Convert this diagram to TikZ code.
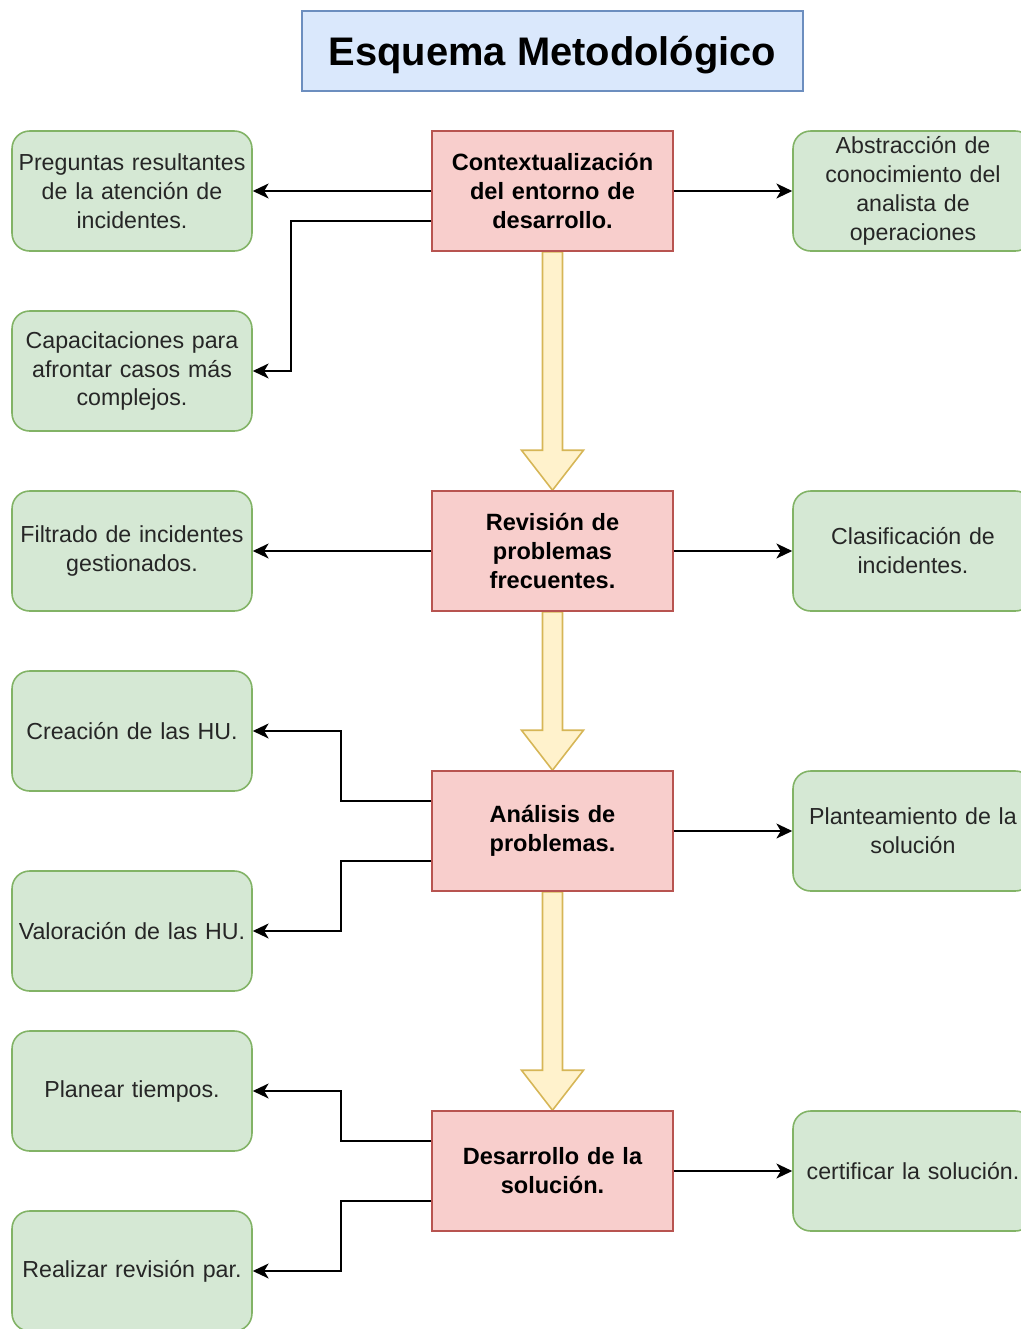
\documentclass[tikz,border=0pt]{standalone}
\usepackage{fontspec}
\setmainfont{Liberation Sans}
\usetikzlibrary{arrows.meta,calc,backgrounds}
\definecolor{tituloFill}{HTML}{DAE8FC}
\definecolor{tituloLine}{HTML}{6C8EBF}
\definecolor{faseFill}{HTML}{F8CECC}
\definecolor{faseLine}{HTML}{B85450}
\definecolor{tareaFill}{HTML}{D5E8D4}
\definecolor{tareaLine}{HTML}{82B366}
\definecolor{bloqueFill}{HTML}{FFF2CC}
\definecolor{bloqueLine}{HTML}{D6B656}
\tikzset{
  titulo/.style={draw=tituloLine, fill=tituloFill, line width=0.9pt, minimum width=10.02cm, minimum height=1.6cm, text depth=0pt, font=\fontsize{22.7}{26}\selectfont\bfseries},
  fase/.style={draw=faseLine, fill=faseFill, line width=0.9pt, inner sep=0pt, minimum width=4.82cm, minimum height=2.4cm, text width=4.76cm, align=center, font=\fontsize{13.4}{16.5}\selectfont\bfseries},
  tarea/.style={draw=tareaLine, fill=tareaFill, line width=0.9pt, inner sep=0pt, rounded corners=10pt, minimum width=4.8cm, minimum height=2.4cm, text width=4.76cm, align=center, text=black!85, font=\fontsize{13.2}{16.5}\selectfont},
  flecha/.style={-{Stealth[length=9pt, width=8.5pt, inset=2.5pt]}, line width=1pt},
  bloque/.style={draw=bloqueLine, fill=bloqueFill, line width=0.9pt}
}
\begin{document}
\begin{tikzpicture}[x=0.02cm, y=-0.02cm]
    \path[use as bounding box] (0,0) rectangle (1021,1329);
    \clip (0,0) rectangle (1021,1329);
    \node[titulo] (titulo) at (552.5,51) {Esquema Metodológico};
    % fases
    \node[fase] (ctx) at (552.5,191) {Contextualización\\ del entorno de\\ desarrollo.};
    \node[fase] (rev) at (552.5,551) {Revisión de\\ problemas\\ frecuentes.};
    \node[fase] (ana) at (552.5,831) {Análisis de\\ problemas.};
    \node[fase] (des) at (552.5,1171) {Desarrollo de la\\ solución.};
    % tareas izquierda
    \node[tarea] (preg) at (132,191) {Preguntas resultantes\\ de la atención de\\ incidentes.};
    \node[tarea] (capac) at (132,371) {Capacitaciones para\\ afrontar casos más\\ complejos.};
    \node[tarea] (filtr) at (132,551) {Filtrado de incidentes\\ gestionados.};
    \node[tarea] (crea) at (132,731) {Creación de las HU.};
    \node[tarea] (valor) at (132,931) {Valoración de las HU.};
    \node[tarea] (plan) at (132,1091) {Planear tiempos.};
    \node[tarea] (revpar) at (132,1271) {Realizar revisión par.};
    % tareas derecha
    \node[tarea] (abst) at (913,191) {Abstracción de\\ conocimiento del\\ analista de\\ operaciones};
    \node[tarea] (clas) at (913,551) {Clasificación de\\ incidentes.};
    \node[tarea] (plant) at (913,831) {Planteamiento de la\\ solución};
    \node[tarea] (cert) at (913,1171) {certificar la solución.};
    % flechas de bloque
    \begin{scope}[on background layer]
    \foreach \a/\b in {ctx/rev, rev/ana, ana/des}
      \filldraw[bloque] ($(\a.south)+(-10,0)$) -- ($(\b.north)+(-10,-40)$) -- ($(\b.north)+(-31,-40)$)
        -- (\b.north) -- ($(\b.north)+(31,-40)$) -- ($(\b.north)+(10,-40)$) -- ($(\a.south)+(10,0)$) -- cycle;
    \end{scope}
    % conectores
    \draw[flecha] (ctx.west) -- (preg.east);
    \draw[flecha] ([yshift=-0.6cm]ctx.west) -- ++(-140,0) |- (capac.east);
    \draw[flecha] (ctx.east) -- (abst.west);
    \draw[flecha] (rev.west) -- (filtr.east);
    \draw[flecha] (rev.east) -- (clas.west);
    \draw[flecha] ([yshift=0.6cm]ana.west) -- ++(-90,0) |- (crea.east);
    \draw[flecha] ([yshift=-0.6cm]ana.west) -- ++(-90,0) |- (valor.east);
    \draw[flecha] (ana.east) -- (plant.west);
    \draw[flecha] ([yshift=0.6cm]des.west) -- ++(-90,0) |- (plan.east);
    \draw[flecha] ([yshift=-0.6cm]des.west) -- ++(-90,0) |- (revpar.east);
    \draw[flecha] (des.east) -- (cert.west);
\end{tikzpicture}
\end{document}
